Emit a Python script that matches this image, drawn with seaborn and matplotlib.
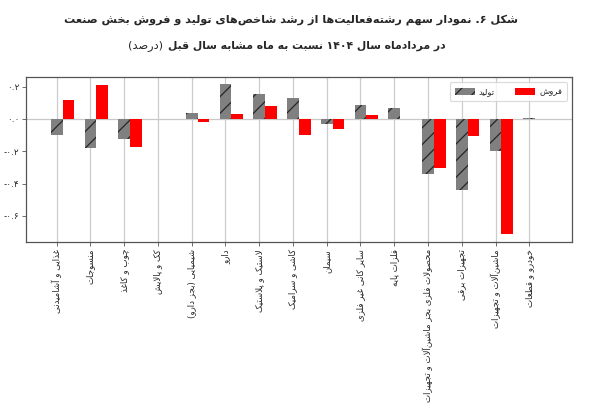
import numpy as np
import pandas as pd
import matplotlib
matplotlib.use("Agg")
import matplotlib.pyplot as plt
import matplotlib.patches as mpatches
import seaborn as sns

# ---------------- data ----------------
categories = [
    "غذایی و آشامیدنی", "منسوجات", "چوب و کاغذ", "کک و پالایش",
    "شیمیایی (بجز دارو)", "دارو", "لاستیک و پلاستیک", "کاشی و سرامیک",
    "سیمان", "سایر کانی غیر فلزی", "فلزات پایه",
    "محصولات فلزی بجز ماشین\u200cآلات و تجهیزات", "تجهیزات برقی",
    "ماشین\u200cآلات و تجهیزات", "خودرو و قطعات",
]
production = [-0.100, -0.177, -0.124, -0.002, 0.040, 0.215, 0.155, 0.132,
              -0.031, 0.087, 0.068, -0.342, -0.443, -0.198, 0.005]
sales = [0.120, 0.210, -0.175, 0.002, -0.016, 0.031, 0.080, -0.099,
         -0.060, 0.027, 0.002, -0.303, -0.107, -0.714, 0.002]
series_names = ["تولید", "فروش"]
ytick_values = [0.2, 0.0, -0.2, -0.4, -0.6]
ytick_labels = ["۰.۲", "۰.۰", "-۰.۲", "-۰.۴", "-۰.۶"]
title_line1 = "شکل ۶. نمودار سهم رشته\u200cفعالیت\u200cها از رشد شاخص\u200cهای تولید و فروش بخش صنعت"
title_line2 = "در مردادماه سال ۱۴۰۴ نسبت به ماه مشابه سال قبل"
title_unit = "(درصد)"

# ---------------- Persian shaping (matplotlib has no complex text layout) ----------------
_F = {
    '\u0621': ('\uFE80', None, None, None),
    '\u0622': ('\uFE81', '\uFE82', None, None),
    '\u0623': ('\uFE83', '\uFE84', None, None),
    '\u0624': ('\uFE85', '\uFE86', None, None),
    '\u0625': ('\uFE87', '\uFE88', None, None),
    '\u0626': ('\uFE89', '\uFE8A', '\uFE8B', '\uFE8C'),
    '\u0627': ('\uFE8D', '\uFE8E', None, None),
    '\u0628': ('\uFE8F', '\uFE90', '\uFE91', '\uFE92'),
    '\u0629': ('\uFE93', '\uFE94', None, None),
    '\u062A': ('\uFE95', '\uFE96', '\uFE97', '\uFE98'),
    '\u062B': ('\uFE99', '\uFE9A', '\uFE9B', '\uFE9C'),
    '\u062C': ('\uFE9D', '\uFE9E', '\uFE9F', '\uFEA0'),
    '\u062D': ('\uFEA1', '\uFEA2', '\uFEA3', '\uFEA4'),
    '\u062E': ('\uFEA5', '\uFEA6', '\uFEA7', '\uFEA8'),
    '\u062F': ('\uFEA9', '\uFEAA', None, None),
    '\u0630': ('\uFEAB', '\uFEAC', None, None),
    '\u0631': ('\uFEAD', '\uFEAE', None, None),
    '\u0632': ('\uFEAF', '\uFEB0', None, None),
    '\u0633': ('\uFEB1', '\uFEB2', '\uFEB3', '\uFEB4'),
    '\u0634': ('\uFEB5', '\uFEB6', '\uFEB7', '\uFEB8'),
    '\u0635': ('\uFEB9', '\uFEBA', '\uFEBB', '\uFEBC'),
    '\u0636': ('\uFEBD', '\uFEBE', '\uFEBF', '\uFEC0'),
    '\u0637': ('\uFEC1', '\uFEC2', '\uFEC3', '\uFEC4'),
    '\u0638': ('\uFEC5', '\uFEC6', '\uFEC7', '\uFEC8'),
    '\u0639': ('\uFEC9', '\uFECA', '\uFECB', '\uFECC'),
    '\u063A': ('\uFECD', '\uFECE', '\uFECF', '\uFED0'),
    '\u0641': ('\uFED1', '\uFED2', '\uFED3', '\uFED4'),
    '\u0642': ('\uFED5', '\uFED6', '\uFED7', '\uFED8'),
    '\u0643': ('\uFED9', '\uFEDA', '\uFEDB', '\uFEDC'),
    '\u0644': ('\uFEDD', '\uFEDE', '\uFEDF', '\uFEE0'),
    '\u0645': ('\uFEE1', '\uFEE2', '\uFEE3', '\uFEE4'),
    '\u0646': ('\uFEE5', '\uFEE6', '\uFEE7', '\uFEE8'),
    '\u0647': ('\uFEE9', '\uFEEA', '\uFEEB', '\uFEEC'),
    '\u0648': ('\uFEED', '\uFEEE', None, None),
    '\u0649': ('\uFEEF', '\uFEF0', None, None),
    '\u064A': ('\uFEF1', '\uFEF2', '\uFEF3', '\uFEF4'),
    '\u067E': ('\uFB56', '\uFB57', '\uFB58', '\uFB59'),
    '\u0686': ('\uFB7A', '\uFB7B', '\uFB7C', '\uFB7D'),
    '\u0698': ('\uFB8A', '\uFB8B', None, None),
    '\u06A9': ('\uFB8E', '\uFB8F', '\uFB90', '\uFB91'),
    '\u06AF': ('\uFB92', '\uFB93', '\uFB94', '\uFB95'),
    '\u06CC': ('\uFBFC', '\uFBFD', '\uFBFE', '\uFBFF'),
}
_LIG = {'\u0627': ('\uFEFB', '\uFEFC'), '\u0622': ('\uFEF5', '\uFEF6'),
        '\u0623': ('\uFEF7', '\uFEF8'), '\u0625': ('\uFEF9', '\uFEFA')}


def _jn(c):
    return c in _F and _F[c][2] is not None


def _jp(c):
    return c in _F and _F[c][1] is not None


def _shape(s):
    ch = list(s)
    n = len(ch)
    res = []
    i = 0
    while i < n:
        c = ch[i]
        if c not in _F:
            if c != '\u200c':
                res.append(c)
            i += 1
            continue
        prev = ch[i - 1] if i > 0 else ''
        cp = _jn(prev)
        if c == '\u0644' and i + 1 < n and ch[i + 1] in _LIG:
            lig = _LIG[ch[i + 1]]
            res.append(lig[1] if cp else lig[0])
            i += 2
            continue
        nxt = ch[i + 1] if i + 1 < n else ''
        cn = _jn(c) and _jp(nxt)
        cp = cp and _jp(c)
        iso, fin, ini, med = _F[c]
        res.append(med if (cp and cn) else fin if cp else ini if cn else iso)
        i += 1
    return ''.join(res)


_DIG = set('0123456789۰۱۲۳۴۵۶۷۸۹')
_MIR = str.maketrans('()', ')(')


def fa(s):
    t = _shape(s)
    runs = []
    for c in t:
        d = c in _DIG
        if runs and runs[-1][0] == d:
            runs[-1][1].append(c)
        else:
            runs.append([d, [c]])
    out = []
    for d, cs in reversed(runs):
        out.append(''.join(cs) if d else ''.join(cs[::-1]).translate(_MIR))
    return ''.join(out)


# ---------------- figure ----------------
sns.set_style("white")
plt.rcParams['font.family'] = ['DejaVu Sans']
plt.rcParams['hatch.linewidth'] = 0.9

n = len(categories)
df = pd.DataFrame({
    "cat": categories * 2,
    "series": [series_names[0]] * n + [series_names[1]] * n,
    "value": production + sales,
})

W, H = 595, 418
fig = plt.figure(figsize=(W / 100, H / 100), dpi=100)
ax = fig.add_axes([26 / W, 1 - 242 / H, (572 - 26) / W, (242 - 77) / H])

colors = {series_names[0]: "#808080", series_names[1]: "#ff0000"}
sns.barplot(data=df, x="cat", y="value", hue="series", hue_order=series_names,
            order=categories, palette=colors, width=0.7, saturation=1,
            legend=False, ax=ax, errorbar=None)

for bar in ax.containers[0]:
    bar.set_hatch("//")
    bar.set_edgecolor("#262626")
    bar.set_linewidth(0)
for bar in ax.containers[1]:
    bar.set_linewidth(0)

half = 0.175
ax.set_xticks(np.arange(n) - half)
ax.set_xticklabels([fa(c) for c in categories], rotation=90, fontsize=6.2,
                   va='top', ha='center')
ax.set_yticks(ytick_values)
ax.set_yticklabels(ytick_labels, fontsize=6.5)
ax.set_xlim(-1.083, 15.09)
ax.set_ylim(-0.762, 0.26)
ax.set_xlabel("")
ax.set_ylabel("")

ax.grid(axis='x', color="#cccccc", linewidth=0.9)
ax.set_axisbelow(True)
ax.axhline(0, color="#c8c8c8", linewidth=0.9, zorder=0.5)
ax.tick_params(axis='both', which='both', length=3, width=0.6, color="#555555",
               direction='out', bottom=True, left=True, pad=2)
for sp in ax.spines.values():
    sp.set_color("#555555")
    sp.set_linewidth(0.9)

handles = [
    mpatches.Patch(facecolor="#808080", edgecolor="#262626", hatch="//", linewidth=0,
                   label=fa(series_names[0])),
    mpatches.Patch(facecolor="#ff0000", linewidth=0, label=fa(series_names[1])),
]
leg = ax.legend(handles=handles, ncol=2, loc='upper right', fontsize=6,
                bbox_to_anchor=(1 - 5 / 546, 1 - 5 / 165), borderaxespad=0,
                handlelength=2.4, handleheight=0.9, columnspacing=2.4,
                handletextpad=0.5, frameon=True, fancybox=True, borderpad=0.6)
leg.get_frame().set_edgecolor("#d0d0d0")
leg.get_frame().set_linewidth(0.8)

# ---------------- titles ----------------
fig.canvas.draw()
r = fig.canvas.get_renderer()


def fit(txt, target_w):
    w = txt.get_window_extent(r).width
    txt.set_fontsize(txt.get_fontsize() * target_w / w)


t1 = fig.text(291 / W, 1 - 20 / H, fa(title_line1), ha='center', va='center',
              fontsize=11, fontweight='bold')
fit(t1, 452)
t2 = fig.text(446 / W, 1 - 46 / H, fa(title_line2), ha='right', va='center',
              fontsize=11, fontweight='bold')
fit(t2, 278)
t3 = fig.text(163 / W, 1 - 46 / H, fa(title_unit), ha='right', va='center',
              fontsize=8)
fit(t3, 35)

fig.savefig("out.png", dpi=100)
